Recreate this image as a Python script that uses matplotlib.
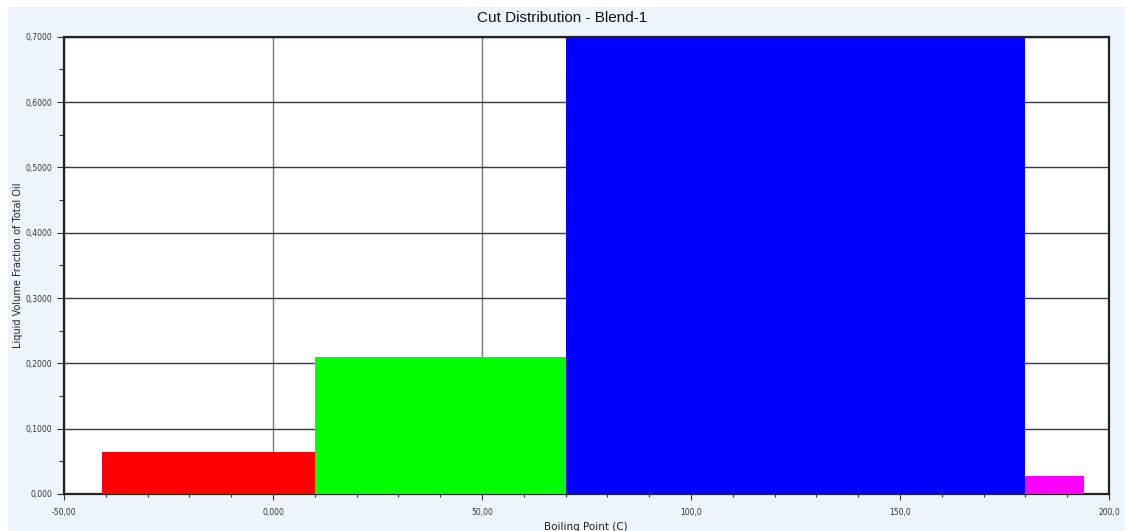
import matplotlib
matplotlib.use('Agg')
import matplotlib.pyplot as plt
from matplotlib.patches import Rectangle

# Cut distribution data (boiling point ranges in C, liquid volume fraction)
cut_start = [-41, 10, 70, 180]
cut_end = [10, 70, 180, 194]
fractions = [0.064, 0.210, 0.698, 0.028]
cut_colors = ['#ff0000', '#00ff00', '#0000ff', '#ff00ff']

x_ticks = [-50, 0, 50, 100, 150, 200]
x_tick_labels = ['-50,00', '0,000', '50,00', '100,0', '150,0', '200,0']
y_ticks = [0.0, 0.1, 0.2, 0.3, 0.4, 0.5, 0.6, 0.7]
y_tick_labels = ['0,000', '0,1000', '0,2000', '0,3000', '0,4000', '0,5000', '0,6000', '0,7000']

W, H = 1125, 531
fig = plt.figure(figsize=(W / 100, H / 100), dpi=100, facecolor='white')

# light blue panel behind the chart
fig.patches.append(Rectangle((8 / W, 0), 1, 1 - 7 / H, transform=fig.transFigure,
                             facecolor='#eef5fd', edgecolor='none', zorder=-10))

ax = fig.add_axes([64 / W, (H - 494) / H, (1109 - 64) / W, (494 - 36.7) / H])
ax.set_zorder(5)
ax.set_facecolor('white')

widths = [e - s for s, e in zip(cut_start, cut_end)]
ax.bar(cut_start, fractions, width=widths, align='edge', color=cut_colors,
       edgecolor='none', zorder=3)

ax.set_xlim(-50, 200)
ax.set_ylim(0, 0.7)

ax.set_xticks(x_ticks)
ax.set_xticklabels(x_tick_labels)
ax.set_xticks(range(-50, 201, 10), minor=True)
ax.set_yticks(y_ticks)
ax.set_yticklabels(y_tick_labels)
ax.set_yticks([0.05 + 0.1 * i for i in range(7)], minor=True)

ax.tick_params(axis='x', which='major', length=4.3, width=0.8, pad=6,
               labelsize=5.5, labelcolor='#333333', color='#333333')
ax.tick_params(axis='x', which='minor', length=2.5, width=0.8, color='#333333')
ax.tick_params(axis='y', which='major', length=5, width=0.8, pad=3.6,
               labelsize=5.5, labelcolor='#333333', color='#333333')
ax.tick_params(axis='y', which='minor', length=3.6, width=0.8, color='#333333')

# horizontal grid darker than vertical grid, as in the reference
ax.yaxis.grid(True, which='major', color='#3a3a3a', linewidth=1.0)
ax.xaxis.grid(True, which='major', color='#7a7a7a', linewidth=1.0)
ax.set_axisbelow(True)

for side in ['left', 'top', 'right', 'bottom']:
    ax.spines[side].set_linewidth(1.6)
    ax.spines[side].set_color('#222222')
ax.spines['bottom'].set_zorder(2)
ax.spines['top'].set_zorder(4)

fig.text(0.5, 1 - 18 / H, 'Cut Distribution - Blend-1', ha='center', va='center',
         fontsize=11, family='Liberation Sans', color='#111111')
fig.text(18 / W, 1 - 265 / H, 'Liquid Volume Fraction of Total Oil', ha='center',
         va='center', rotation=90, fontsize=7, color='#222222')
fig.text(586 / W, 1 - 527 / H, 'Boiling Point (C)', ha='center', va='center',
         fontsize=7.5, color='#222222')

fig.savefig('out.png', dpi=100, facecolor=fig.get_facecolor())
